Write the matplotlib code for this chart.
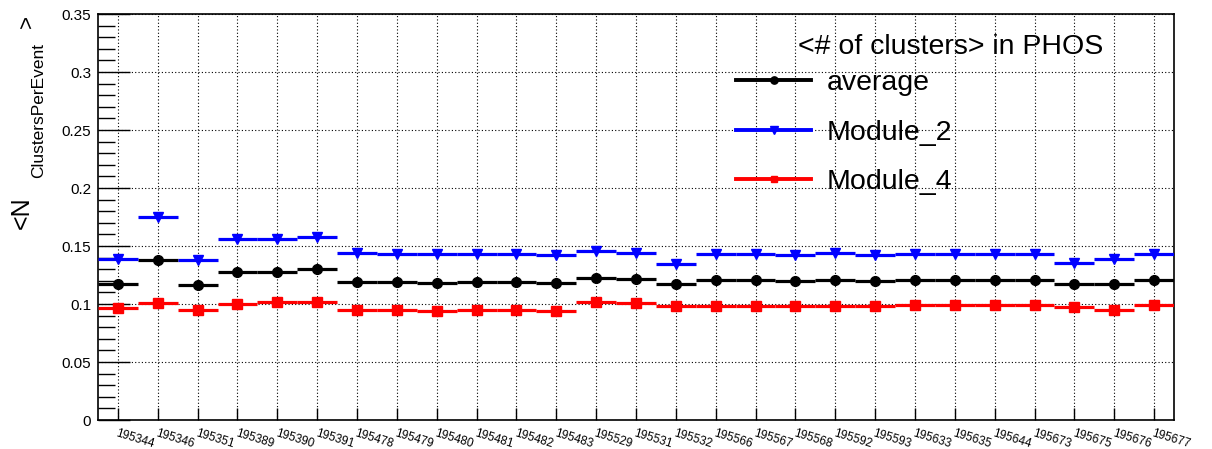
import numpy as np
import matplotlib
matplotlib.use('Agg')
import matplotlib.pyplot as plt
from matplotlib.lines import Line2D
from matplotlib.ticker import MultipleLocator

plt.rcParams['font.family'] = ['Liberation Sans', 'DejaVu Sans']

# run numbers
runs = ['195344', '195346', '195351', '195389', '195390', '195391', '195478',
        '195479', '195480', '195481', '195482', '195483', '195529', '195531',
        '195532', '195566', '195567', '195568', '195592', '195593', '195633',
        '195635', '195644', '195673', '195675', '195676', '195677']

average = [0.117, 0.138, 0.116, 0.128, 0.128, 0.130, 0.119, 0.119, 0.118,
           0.119, 0.119, 0.118, 0.1225, 0.1217, 0.117, 0.121, 0.121, 0.120,
           0.121, 0.120, 0.121, 0.121, 0.121, 0.121, 0.117, 0.117, 0.121]
module_2 = [0.139, 0.1746, 0.138, 0.1558, 0.1558, 0.1578, 0.1442, 0.1434,
            0.1434, 0.1434, 0.1434, 0.1419, 0.1457, 0.1442, 0.1347, 0.1434,
            0.1434, 0.1419, 0.1442, 0.1419, 0.1434, 0.1434, 0.1434, 0.1434,
            0.1355, 0.1384, 0.1428]
module_4 = [0.0965, 0.1006, 0.0951, 0.100, 0.1017, 0.1017, 0.0951, 0.0951,
            0.094, 0.0951, 0.0951, 0.094, 0.1014, 0.1006, 0.0986, 0.0986,
            0.098, 0.098, 0.0986, 0.0986, 0.099, 0.099, 0.099, 0.099,
            0.097, 0.095, 0.099]

yticks = [0, 0.05, 0.1, 0.15, 0.2, 0.25, 0.3, 0.35]
ytick_labels = ['0', '0.05', '0.1', '0.15', '0.2', '0.25', '0.3', '0.35']

W, H = 1212, 449
fig = plt.figure(figsize=(W / 100, H / 100), dpi=100)
ax = fig.add_axes([98 / W, 1 - 420 / H, (1174 - 98) / W, (420 - 14) / H])

x = np.arange(len(runs))
series = [(average, 'black', 'o', 7, 'average'),
          (module_2, 'blue', 'v', 7, 'Module_2'),
          (module_4, 'red', 's', 6.5, 'Module_4')]
handles = []
for vals, col, mk, ms, lab in series:
    ax.errorbar(x, vals, xerr=0.5, fmt=mk, color=col, ms=ms, elinewidth=2.3,
                capsize=0, zorder=3)
    handles.append(Line2D([], [], color=col, lw=2.8, marker=mk, ms=ms * 0.75))

ax.set_xlim(-0.5, len(runs) - 0.5)
ax.set_ylim(0, 0.35)
ax.set_xticks(x)
ax.set_xticklabels(runs, rotation=-17, ha='left', va='top',
                   rotation_mode='anchor', fontsize=8.5)
ax.set_yticks(yticks)
ax.set_yticklabels(ytick_labels)
ax.yaxis.set_minor_locator(MultipleLocator(0.01))
ax.tick_params(axis='y', which='major', direction='in', length=23, width=1,
               labelsize=11, pad=5)
ax.tick_params(axis='y', which='minor', direction='in', length=12, width=1)
ax.tick_params(axis='x', which='major', direction='in', length=9, width=1,
               pad=5)
ax.grid(True, which='major', linestyle=(0, (1, 2)), color='black', lw=0.8)
for s in ax.spines.values():
    s.set_linewidth(1.2)

# y axis title, ROOT style
fig.text(29 / W, 1 - 229 / H, '<N', rotation=90, rotation_mode='anchor',
         ha='left', va='baseline', fontsize=18)
fig.text(43 / W, 1 - 178 / H, 'ClustersPerEvent', rotation=90,
         rotation_mode='anchor', ha='left', va='baseline', fontsize=12.5)
fig.text(33 / W, 1 - 28 / H, '>', rotation=90, rotation_mode='anchor',
         ha='left', va='baseline', fontsize=16)

# legend
fig.text(798 / W, 1 - 47 / H, '<# of clusters> in PHOS', ha='left',
         va='center', fontsize=20.5)
ax.legend(handles, [s[4] for s in series], loc='upper left',
          bbox_to_anchor=(736 / W, 1 - 70 / H), bbox_transform=fig.transFigure,
          frameon=False, fontsize=20.5, handlelength=2.65, handletextpad=0.55,
          labelspacing=0.83, borderpad=0, borderaxespad=0, numpoints=1)

fig.savefig('out.png', dpi=100)
